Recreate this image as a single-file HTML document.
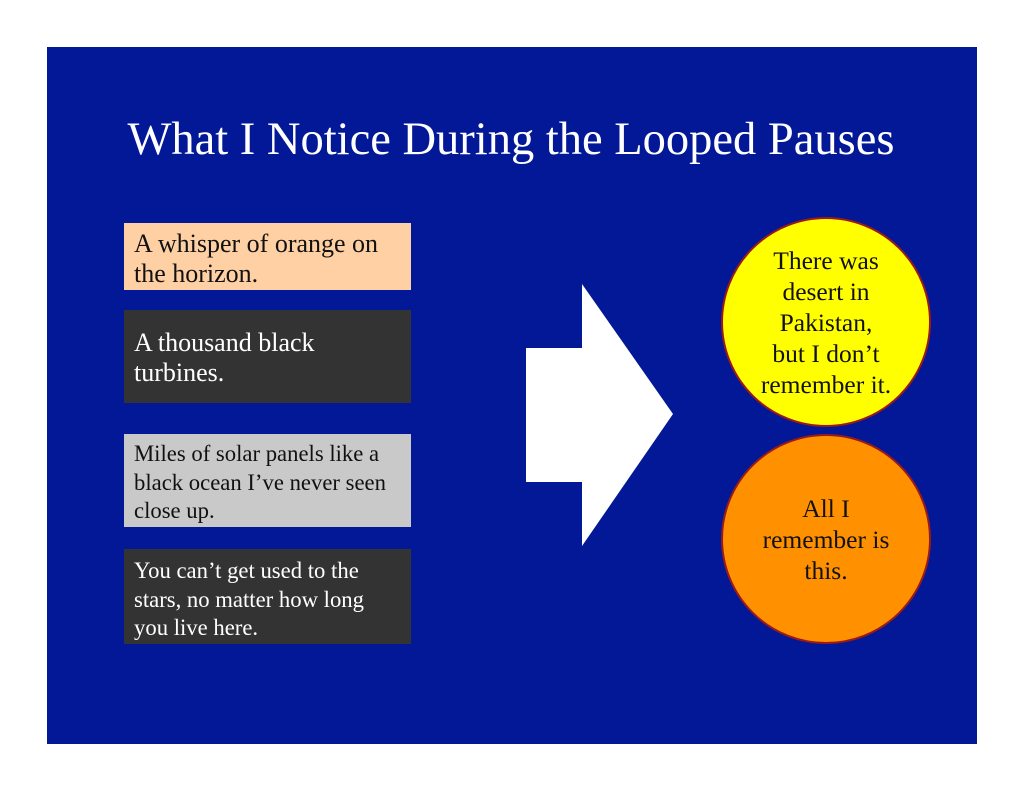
<!DOCTYPE html>
<html><head><style>
body{margin:0;width:1024px;height:791px;background:#fff;position:relative;overflow:hidden;font-family:"Liberation Serif",serif}
#bg{position:absolute;left:47px;top:47px;width:930px;height:697px;background:#021896}
.t{position:absolute;left:0;width:1022px;top:112px;text-align:center;color:#fff;font-size:46.5px;line-height:56px}
.b{position:absolute;left:124px;width:287px;box-sizing:border-box;padding:0 10px;font-size:26px;line-height:30px;white-space:nowrap}
.c{position:absolute;left:721px;width:210px;height:210px;border-radius:50%;border:2px solid #9a1a1a;box-sizing:border-box;display:flex;align-items:center;justify-content:center;text-align:center;font-size:25.5px;line-height:31px;color:#111}
</style></head><body>
<div id="bg"></div>
<div class="t">What I Notice During the Looped Pauses</div>
<div class="b" style="top:223px;height:67px;background:#ffd0a3;color:#111;padding-top:6px">A whisper of orange on<br>the horizon.</div>
<div class="b" style="top:310px;height:93px;background:#333;color:#fff;padding-top:18px">A thousand black<br>turbines.</div>
<div class="b" style="top:434px;height:93px;background:#c9c9c9;color:#111;padding-top:6px;font-size:22.7px;line-height:28.5px">Miles of solar panels like a<br>black ocean I’ve never seen<br>close up.</div>
<div class="b" style="top:549px;height:95px;background:#333;color:#fff;padding-top:8px;font-size:22.7px;line-height:28.5px">You can’t get used to the<br>stars, no matter how long<br>you live here.</div>
<svg style="position:absolute;left:0;top:0" width="1024" height="791"><polygon points="526,348 582,348 582,284 673,414 582,546 582,482 526,482" fill="#fff"/></svg>
<div class="c" style="top:217px;background:#ffff00">There was<br>desert in<br>Pakistan,<br>but I don’t<br>remember it.</div>
<div class="c" style="top:434px;background:#ff9000">All I<br>remember is<br>this.</div>
</body></html>
